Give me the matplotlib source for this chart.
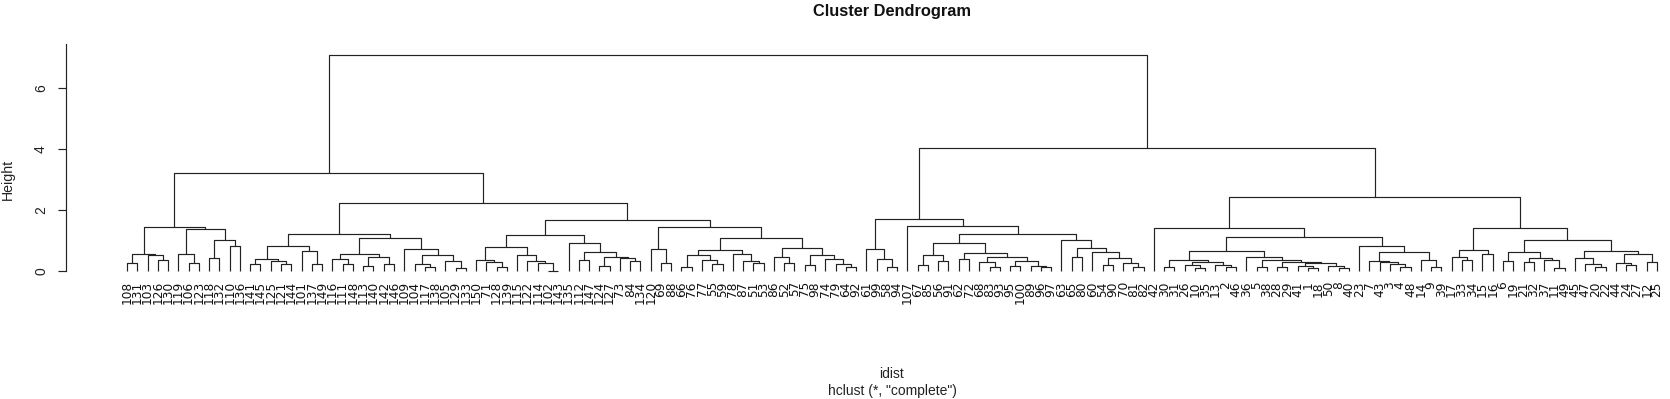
import math
import matplotlib
matplotlib.use("Agg")
import matplotlib.pyplot as plt
from matplotlib.collections import LineCollection

# ---- data: iris measurements (rows 1..150), the input of dist() ----
sepal_length = [5.1,4.9,4.7,4.6,5.0,5.4,4.6,5.0,4.4,4.9,5.4,4.8,4.8,4.3,5.8,5.7,5.4,5.1,5.7,5.1,
                5.4,5.1,4.6,5.1,4.8,5.0,5.0,5.2,5.2,4.7,4.8,5.4,5.2,5.5,4.9,5.0,5.5,4.9,4.4,5.1,
                5.0,4.5,4.4,5.0,5.1,4.8,5.1,4.6,5.3,5.0,7.0,6.4,6.9,5.5,6.5,5.7,6.3,4.9,6.6,5.2,
                5.0,5.9,6.0,6.1,5.6,6.7,5.6,5.8,6.2,5.6,5.9,6.1,6.3,6.1,6.4,6.6,6.8,6.7,6.0,5.7,
                5.5,5.5,5.8,6.0,5.4,6.0,6.7,6.3,5.6,5.5,5.5,6.1,5.8,5.0,5.6,5.7,5.7,6.2,5.1,5.7,
                6.3,5.8,7.1,6.3,6.5,7.6,4.9,7.3,6.7,7.2,6.5,6.4,6.8,5.7,5.8,6.4,6.5,7.7,7.7,6.0,
                6.9,5.6,7.7,6.3,6.7,7.2,6.2,6.1,6.4,7.2,7.4,7.9,6.4,6.3,6.1,7.7,6.3,6.4,6.0,6.9,
                6.7,6.9,5.8,6.8,6.7,6.7,6.3,6.5,6.2,5.9]
sepal_width = [3.5,3.0,3.2,3.1,3.6,3.9,3.4,3.4,2.9,3.1,3.7,3.4,3.0,3.0,4.0,4.4,3.9,3.5,3.8,3.8,
               3.4,3.7,3.6,3.3,3.4,3.0,3.4,3.5,3.4,3.2,3.1,3.4,4.1,4.2,3.1,3.2,3.5,3.6,3.0,3.4,
               3.5,2.3,3.2,3.5,3.8,3.0,3.8,3.2,3.7,3.3,3.2,3.2,3.1,2.3,2.8,2.8,3.3,2.4,2.9,2.7,
               2.0,3.0,2.2,2.9,2.9,3.1,3.0,2.7,2.2,2.5,3.2,2.8,2.5,2.8,2.9,3.0,2.8,3.0,2.9,2.6,
               2.4,2.4,2.7,2.7,3.0,3.4,3.1,2.3,3.0,2.5,2.6,3.0,2.6,2.3,2.7,3.0,2.9,2.9,2.5,2.8,
               3.3,2.7,3.0,2.9,3.0,3.0,2.5,2.9,2.5,3.6,3.2,2.7,3.0,2.5,2.8,3.2,3.0,3.8,2.6,2.2,
               3.2,2.8,2.8,2.7,3.3,3.2,2.8,3.0,2.8,3.0,2.8,3.8,2.8,2.8,2.6,3.0,3.4,3.1,3.0,3.1,
               3.1,3.1,2.7,3.2,3.3,3.0,2.5,3.0,3.4,3.0]
petal_length = [1.4,1.4,1.3,1.5,1.4,1.7,1.4,1.5,1.4,1.5,1.5,1.6,1.4,1.1,1.2,1.5,1.3,1.4,1.7,1.5,
                1.7,1.5,1.0,1.7,1.9,1.6,1.6,1.5,1.4,1.6,1.6,1.5,1.5,1.4,1.5,1.2,1.3,1.4,1.3,1.5,
                1.3,1.3,1.3,1.6,1.9,1.4,1.6,1.4,1.5,1.4,4.7,4.5,4.9,4.0,4.6,4.5,4.7,3.3,4.6,3.9,
                3.5,4.2,4.0,4.7,3.6,4.4,4.5,4.1,4.5,3.9,4.8,4.0,4.9,4.7,4.3,4.4,4.8,5.0,4.5,3.5,
                3.8,3.7,3.9,5.1,4.5,4.5,4.7,4.4,4.1,4.0,4.4,4.6,4.0,3.3,4.2,4.2,4.2,4.3,3.0,4.1,
                6.0,5.1,5.9,5.6,5.8,6.6,4.5,6.3,5.8,6.1,5.1,5.3,5.5,5.0,5.1,5.3,5.5,6.7,6.9,5.0,
                5.7,4.9,6.7,4.9,5.7,6.0,4.8,4.9,5.6,5.8,6.1,6.4,5.6,5.1,5.6,6.1,5.6,5.5,4.8,5.4,
                5.6,5.1,5.1,5.9,5.7,5.2,5.0,5.2,5.4,5.1]
petal_width = [0.2,0.2,0.2,0.2,0.2,0.4,0.3,0.2,0.2,0.1,0.2,0.2,0.1,0.1,0.2,0.4,0.4,0.3,0.3,0.3,
               0.2,0.4,0.2,0.5,0.2,0.2,0.4,0.2,0.2,0.2,0.2,0.4,0.1,0.2,0.2,0.2,0.2,0.1,0.2,0.2,
               0.3,0.3,0.2,0.6,0.4,0.3,0.2,0.2,0.2,0.2,1.4,1.5,1.5,1.3,1.5,1.3,1.6,1.0,1.3,1.4,
               1.0,1.5,1.0,1.4,1.3,1.4,1.5,1.0,1.5,1.1,1.8,1.3,1.5,1.2,1.3,1.4,1.4,1.7,1.5,1.0,
               1.1,1.0,1.2,1.6,1.5,1.6,1.5,1.3,1.3,1.3,1.2,1.4,1.2,1.0,1.3,1.2,1.3,1.3,1.1,1.3,
               2.5,1.9,2.1,1.8,2.2,2.1,1.7,1.8,1.8,2.5,2.0,1.9,2.1,2.0,2.4,2.3,1.8,2.2,2.3,1.5,
               2.3,2.0,2.0,1.8,2.1,1.8,1.8,1.8,2.1,1.6,1.9,2.0,2.2,1.5,1.4,2.3,2.4,1.8,1.8,2.1,
               2.4,2.3,1.9,2.3,2.5,2.3,1.9,2.0,2.3,1.8]
row_labels = [str(i) for i in range(1, 151)]

# ---- dist(): euclidean, same operation order as R ----
cols = [sepal_length, sepal_width, petal_length, petal_width]
n = len(sepal_length)
diss = [[0.0] * n for _ in range(n)]
for i in range(n):
    for j in range(n):
        s = 0.0
        for c in cols:
            dev = c[i] - c[j]
            s += dev * dev
        diss[i][j] = math.sqrt(s)

# ---- hclust(method = "complete"), following R's Fortran routine ----
INF = 1e300
flag = [True] * n
nn = [0] * n
disnn = [0.0] * n
jm = 0
for i in range(n - 1):
    dmin = INF
    for j in range(i + 1, n):
        if dmin > diss[i][j]:
            dmin = diss[i][j]
            jm = j
    nn[i] = jm
    disnn[i] = dmin
ia, ib, crit = [], [], []
ncl = n
im = 0
jj = 0
while ncl > 1:
    dmin = INF
    for i in range(n - 1):
        if flag[i] and disnn[i] < dmin:
            dmin = disnn[i]
            im = i
            jm = nn[i]
    ncl -= 1
    i2, j2 = min(im, jm), max(im, jm)
    ia.append(i2); ib.append(j2); crit.append(dmin)
    flag[j2] = False
    dmin = INF
    for k in range(n):
        if flag[k] and k != i2:
            v = max(diss[i2][k], diss[j2][k])
            diss[i2][k] = v
            diss[k][i2] = v
            if i2 < k:
                if v < dmin:
                    dmin = v
                    jj = k
            else:
                if v < disnn[k]:
                    disnn[k] = v
                    nn[k] = i2
    disnn[i2] = dmin
    nn[i2] = jj
    for i in range(n - 1):
        if flag[i] and (nn[i] == i2 or nn[i] == j2):
            dmin = INF
            for j in range(i + 1, n):
                if flag[j] and diss[i][j] < dmin:
                    dmin = diss[i][j]
                    jj = j
            nn[i] = jj
            disnn[i] = dmin

# ---- hcass2: merge matrix in R convention ----
IA = [a + 1 for a in ia]
IB = [b + 1 for b in ib]
IIA = IA[:]
IIB = IB[:]
for i in range(n - 2):
    k = min(IA[i], IB[i])
    for j in range(i + 1, n - 1):
        if IA[j] == k:
            IIA[j] = -(i + 1)
        if IB[j] == k:
            IIB[j] = -(i + 1)
IIA = [-v for v in IIA]
IIB = [-v for v in IIB]
for i in range(n - 1):
    if IIA[i] > 0 and IIB[i] < 0:
        IIA[i], IIB[i] = IIB[i], IIA[i]
    if IIA[i] > 0 and IIB[i] > 0:
        IIA[i], IIB[i] = min(IIA[i], IIB[i]), max(IIA[i], IIB[i])


def expand(c):
    if c < 0:
        return [-c]
    return expand(IIA[c - 1]) + expand(IIB[c - 1])


order = expand(IIA[n - 2]) + expand(IIB[n - 2])
pos = {leaf: p + 1 for p, leaf in enumerate(order)}

# ---- dendrogram segments ----
segs = []
xc = {}
for m in range(n - 1):
    h = crit[m]
    pts = []
    for c in (IIA[m], IIB[m]):
        if c < 0:
            pts.append((pos[-c], 0.0))
        else:
            pts.append((xc[c], crit[c - 1]))
    (x1, y1), (x2, y2) = pts
    segs.append([(x1, y1), (x1, h), (x2, h), (x2, y2)])
    xc[m + 1] = (x1 + x2) / 2.0

# ---- figure ----
W, H = 1670, 399
fig = plt.figure(figsize=(W / 100, H / 100), dpi=100)
plt.rcParams['font.family'] = ['Liberation Sans', 'DejaVu Sans']

px_left, px_right = 65.8, 65.8 + 1652.4
px_top, px_bot = 44.0, 312.0
ax = fig.add_axes([px_left / W, 1 - px_bot / H, (px_right - px_left) / W, (px_bot - px_top) / H])
ax.patch.set_alpha(0)
x_lo = 1 - 0.04 * (n - 1)
x_hi = n + 0.04 * (n - 1)
ax.set_xlim(x_lo, x_hi)
y_top = 7.443
y_bot = -1.344
ax.set_ylim(y_bot, y_top)

lc = LineCollection(segs, colors='#222222', linewidths=0.85)
ax.add_collection(lc)

for leaf in order:
    ax.annotate(row_labels[leaf - 1], xy=(pos[leaf], 0), xytext=(0, -7.3),
                textcoords='offset points', rotation=90, ha='center', va='top',
                fontsize=8.7, family='DejaVu Sans', color='#111111')

for s in ('top', 'right', 'bottom'):
    ax.spines[s].set_visible(False)
ax.spines['left'].set_bounds(0, y_top)
ax.spines['left'].set_linewidth(0.85)
ax.spines['left'].set_color('#222222')
ax.set_xticks([])
ax.set_yticks([0, 2, 4, 6])
ax.set_yticklabels(['0', '2', '4', '6'], rotation=90, va='center')
ax.tick_params(axis='y', length=5.8, width=0.85, color='#222222', pad=7.0,
               labelsize=10, labelcolor='#222222')

cx = (px_left + px_right) / 2 / W
fig.text(cx, 1 - 11.5 / H, 'Cluster Dendrogram', ha='center', va='center',
         fontsize=11.8, fontweight='bold', color='#111111')
fig.text(8 / W, 1 - 179 / H, 'Height', rotation=90, ha='center', va='center',
         fontsize=10.2, color='#222222')
fig.text(cx, 1 - 374.5 / H, 'idist', ha='center', va='center', fontsize=10, color='#222222')
fig.text(cx, 1 - 391 / H, 'hclust (*, "complete")', ha='center', va='center',
         fontsize=10, color='#222222')

fig.savefig('out.png', dpi=100)
